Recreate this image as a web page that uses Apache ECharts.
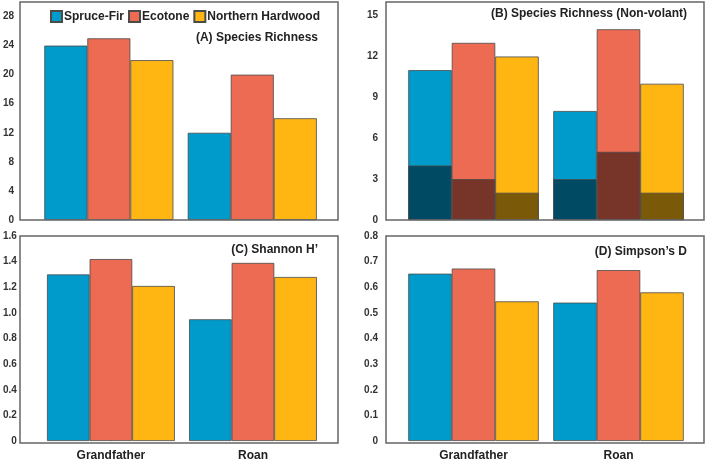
<!DOCTYPE html>
<html>
<head>
<meta charset="utf-8">
<script src="https://cdn.jsdelivr.net/npm/echarts@6/dist/echarts.min.js"></script>
<style>
  html, body { margin: 0; padding: 0; background: #fff; }
  #main { width: 709px; height: 462px; }
</style>
</head>
<body>
<div id="main"></div>
<script>
// sites and habitat types
const sites = ['Grandfather', 'Roan'];
const habitats = ['Spruce-Fir', 'Ecotone', 'Northern Hardwood'];

// (A) species richness
const richSpruce = [24, 12];
const richEcotone = [25, 20];
const richHardwood = [22, 14];

// (B) non-volant richness, plus the darker lower portion of each bar
const nvSpruce = [11, 8];
const nvEcotone = [13, 14];
const nvHardwood = [12, 10];
const nvLowSpruce = [4, 3];
const nvLowEcotone = [3, 5];
const nvLowHardwood = [2, 2];

// (C) Shannon H'
const shannonSpruce = [1.30, 0.95];
const shannonEcotone = [1.42, 1.39];
const shannonHardwood = [1.21, 1.28];

// (D) Simpson's D
const simpsonSpruce = [0.653, 0.54];
const simpsonEcotone = [0.673, 0.667];
const simpsonHardwood = [0.545, 0.58];

const colors = ['#009bcb', '#ed6a53', '#ffb613'];
const darkColors = ['#004a64', '#77352a', '#7a5a08'];
const font = 'Liberation Sans, Arial, sans-serif';

const chart = echarts.init(document.getElementById('main'));

// frames drawn around each panel
const frames = [
  [20, 2, 318, 218],
  [386, 2, 318, 218],
  [20, 236, 318, 207],
  [386, 236, 318, 207]
];

function bars(arrs, xi, yi, cols, names) {
  return arrs.map(function (d, i) {
    return {
      type: 'bar',
      name: names[i],
      xAxisIndex: xi,
      yAxisIndex: yi,
      data: d,
      barGap: '0%',
      barCategoryGap: '10%',
      itemStyle: { color: cols[i], borderColor: '#4a4a4a', borderWidth: 0.8 },
      emphasis: { disabled: true }
    };
  });
}

function xAx(grid, showLabel, hidden) {
  return {
    type: 'category',
    gridIndex: grid,
    data: sites,
    show: !hidden,
    axisLine: { show: false },
    axisTick: { show: true, inside: true, length: 3, alignWithLabel: true, lineStyle: { color: '#999' } },
    axisLabel: { show: showLabel, fontFamily: font, fontWeight: 'bold', fontSize: 12, color: '#222', margin: 9 }
  };
}

function yAx(grid, max, interval, showMax, fmt) {
  return {
    type: 'value',
    gridIndex: grid,
    min: 0,
    max: max,
    interval: interval,
    offset: 15,
    splitLine: { show: false },
    axisLine: { show: false },
    axisTick: { show: false },
    axisLabel: {
      showMaxLabel: showMax,
      fontFamily: font, fontWeight: 'bold', fontSize: 10, color: '#333', margin: 8,
      formatter: fmt
    }
  };
}

const dec1 = function (v) { return v === 0 ? '0' : v.toFixed(1); };

const titleStyle = { fontFamily: font, fontWeight: 'bold', fontSize: 12, color: '#222' };

const option = {
  animation: false,
  title: [
    { text: '(A) Species Richness', right: 391, top: 32, padding: 0, textStyle: titleStyle },
    { text: '(B) Species Richness (Non-volant)', right: 22, top: 8, padding: 0, textStyle: titleStyle },
    { text: "(C) Shannon H’", right: 391, top: 244, padding: 0, textStyle: titleStyle },
    { text: '(D) Simpson’s D', right: 22, top: 246, padding: 0, textStyle: titleStyle }
  ],
  legend: {
    data: habitats,
    left: 50,
    top: 10,
    padding: 0,
    itemWidth: 11,
    itemHeight: 11,
    itemGap: 4,
    icon: 'rect',
    textStyle: { fontFamily: font, fontWeight: 'bold', fontSize: 12, color: '#222', padding: [0, 0, 0, -3] }
  },
  graphic: frames.map(function (f) {
    return {
      type: 'rect',
      z: 10,
      silent: true,
      shape: { x: f[0], y: f[1], width: f[2], height: f[3] },
      style: { fill: null, stroke: '#666', lineWidth: 1.5 }
    };
  }),
  grid: [
    { left: 34, width: 290, top: 2, height: 218 },
    { left: 401, width: 290, top: 2, height: 218 },
    { left: 34, width: 290, top: 236, height: 207 },
    { left: 401, width: 290, top: 236, height: 207 }
  ],
  xAxis: [
    xAx(0, false, false),
    xAx(1, false, false),
    xAx(1, false, true),
    xAx(2, true, false),
    xAx(3, true, false)
  ],
  yAxis: [
    yAx(0, 30, 4, false),
    yAx(1, 16, 3, false),
    yAx(2, 1.6, 0.2, true, dec1),
    yAx(3, 0.8, 0.1, true, dec1)
  ],
  series: [].concat(
    bars([richSpruce, richEcotone, richHardwood], 0, 0, colors, habitats),
    bars([nvSpruce, nvEcotone, nvHardwood], 1, 1, colors, habitats),
    bars([nvLowSpruce, nvLowEcotone, nvLowHardwood], 2, 1, darkColors,
      ['Spruce-Fir (lower)', 'Ecotone (lower)', 'Northern Hardwood (lower)']),
    bars([shannonSpruce, shannonEcotone, shannonHardwood], 3, 2, colors, habitats),
    bars([simpsonSpruce, simpsonEcotone, simpsonHardwood], 4, 3, colors, habitats)
  )
};

chart.setOption(option);
</script>
</body>
</html>
